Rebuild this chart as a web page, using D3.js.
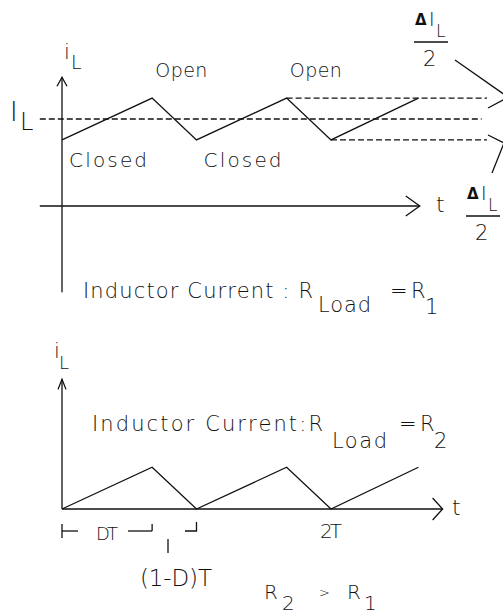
<!DOCTYPE html>
<html>
<head>
<meta charset="utf-8">
<script src="https://cdn.jsdelivr.net/npm/d3@7"></script>
<style>
  body { margin: 0; background: #fff; }
  svg text { font-family: "DejaVu Sans", sans-serif; font-weight: 200; fill: #111; }
</style>
</head>
<body>
<div id="chart"></div>
<script>
// time in units of the switching period T, current in units of the mean I_L
const tPoints = [0, 0.67, 1, 1.67, 2, 2.65];
const iL_R1 = [0.76, 1.24, 0.76, 1.24, 0.76, 1.24];
const iL_R2 = [0, 0.48, 0, 0.48, 0, 0.48];
const switchStates = ["Closed", "Open", "Closed", "Open"];

const width = 503, height = 615;
const ink = "#111";

const svg = d3.select("#chart").append("svg")
    .attr("width", width)
    .attr("height", height);

const xScale = d3.scaleLinear().domain([0, 2]).range([62, 331]);
const yTop = d3.scaleLinear().domain([0, 1]).range([206, 119]);
const yBot = d3.scaleLinear().domain([0, 1]).range([509, 422]);

const line = d3.line();

function seg(g, pts, dash) {
    g.append("path")
        .attr("d", line(pts))
        .attr("fill", "none")
        .attr("stroke", ink)
        .attr("stroke-width", 1.3)
        .attr("stroke-dasharray", dash || null);
}

function label(g, x, y, txt, size, anchor) {
    return g.append("text")
        .attr("x", x).attr("y", y)
        .attr("font-size", size)
        .attr("text-anchor", anchor || "start")
        .text(txt);
}

// open chevron arrowheads
function arrowRight(g, x, y, len, half) {
    seg(g, [[x - len, y - half], [x, y], [x - len, y + half]]);
}
function arrowUp(g, x, y, len, half) {
    seg(g, [[x - half, y + len], [x, y], [x + half, y + len]]);
}

// ---------- top chart: R_Load = R1 ----------
const topG = svg.append("g");

// axes
seg(topG, [[xScale(-0.165), yTop(0)], [xScale(2.66), yTop(0)]]);
arrowRight(topG, xScale(2.66), yTop(0), 14, 10);
seg(topG, [[xScale(0), yTop(-0.99)], [xScale(0), yTop(1.48)]]);
arrowUp(topG, xScale(0), yTop(1.48), 9, 5);

// mean and ripple guides
seg(topG, [[xScale(-0.165), yTop(1)], [xScale(3.12), yTop(1)]], "6,3");
seg(topG, [[xScale(tPoints[3]), yTop(iL_R1[3])], [xScale(3.16), yTop(iL_R1[3])]], "6,3");
seg(topG, [[xScale(tPoints[4]), yTop(iL_R1[4])], [xScale(3.16), yTop(iL_R1[4])]], "6,3");

// waveform
seg(topG, tPoints.map((t, i) => [xScale(t), yTop(iL_R1[i])]));

// switch state labels: Closed on rising ramps, Open on falling ramps
switchStates.forEach((s, i) => {
    const xm = (xScale(tPoints[i]) + xScale(tPoints[i + 1])) / 2;
    if (s === "Closed") {
        label(topG, xm + 1, yTop(iL_R1[i]) + 27, s, 20, "middle").attr("textLength", 78);
    } else {
        label(topG, xm + 7, 77, s, 19, "middle").attr("textLength", 52);
    }
});

// axis labels
label(topG, 64, 59, "i", 21);
label(topG, 71, 69, "L", 19);
label(topG, 10, 121, "I", 26);
label(topG, 20, 130, "L", 24);
label(topG, 436, 212, "t", 22);

// delta I / 2 annotations
function deltaFrac(g, x, y) {
    label(g, x, y, "Δ", 15).style("font-weight", "bold");
    label(g, x + 14, y + 1, "I", 19);
    label(g, x + 21, y + 12, "L", 17);
    seg(g, [[x - 1, y + 17], [x + 33, y + 17]]);
    label(g, x + 8, y + 41, "2", 21);
}
deltaFrac(topG, 415, 25);
deltaFrac(topG, 467, 199);

seg(topG, [[455, 60], [505, 95]]);
seg(topG, [[488, 108], [505, 99]]);
seg(topG, [[488, 135], [504, 143], [492, 173]]);

// caption
const cap1 = topG.append("text").attr("y", 298).attr("font-size", 21);
cap1.append("tspan").attr("x", 83).attr("textLength", 230).text("Inductor Current : R");
cap1.append("tspan").attr("x", 318).attr("y", 312).attr("textLength", 53).text("Load");
cap1.append("tspan").attr("x", 390).attr("y", 298).text("=");
cap1.append("tspan").attr("x", 411).attr("y", 298).text("R");
cap1.append("tspan").attr("x", 425).attr("y", 314).text("1");

// ---------- bottom chart: R_Load = R2 ----------
const botG = svg.append("g");

seg(botG, [[xScale(0), yBot(0)], [xScale(2.83), yBot(0)]]);
arrowRight(botG, xScale(2.83), yBot(0), 10, 11);
seg(botG, [[xScale(0), yBot(0)], [xScale(0), yBot(1.49)]]);
arrowUp(botG, xScale(0), yBot(1.49), 10, 4);

seg(botG, tPoints.map((t, i) => [xScale(t), yBot(iL_R2[i])]));

label(botG, 54, 358, "i", 21);
label(botG, 59, 369, "L", 18);
label(botG, 452, 515, "t", 22);
label(botG, xScale(2), 538, "2T", 20, "middle").attr("textLength", 22);

// DT / (1-D)T brackets
const by = 531;
seg(botG, [[xScale(0), by - 7], [xScale(0), by + 7]]);
seg(botG, [[xScale(0), by], [78, by]]);
label(botG, (xScale(0) + xScale(tPoints[1])) / 2, 540, "DT", 18, "middle").attr("textLength", 22);
seg(botG, [[128, by], [xScale(tPoints[1]), by]]);
seg(botG, [[xScale(tPoints[1]), by - 7], [xScale(tPoints[1]), by]]);
seg(botG, [[168, 539], [168, 553]]);
seg(botG, [[185, by], [xScale(tPoints[2]), by], [xScale(tPoints[2]), by - 9]]);
label(botG, 176, 586, "(1-D)T", 23, "middle").attr("textLength", 72);

const cap2 = botG.append("text").attr("y", 431).attr("font-size", 21);
cap2.append("tspan").attr("x", 92).attr("textLength", 231).text("Inductor Current:R");
cap2.append("tspan").attr("x", 332).attr("y", 448).attr("textLength", 55).text("Load");
cap2.append("tspan").attr("x", 399).attr("y", 431).text("=");
cap2.append("tspan").attr("x", 420).attr("y", 431).text("R");
cap2.append("tspan").attr("x", 434).attr("y", 448).text("2");

const cmp = botG.append("text").attr("y", 599).attr("font-size", 20);
cmp.append("tspan").attr("x", 264).text("R");
cmp.append("tspan").attr("x", 282).attr("y", 610).text("2");
cmp.append("tspan").attr("x", 319).attr("y", 597).attr("font-size", 13).text(">");
cmp.append("tspan").attr("x", 347).attr("y", 599).text("R");
cmp.append("tspan").attr("x", 364).attr("y", 610).text("1");
</script>
</body>
</html>
